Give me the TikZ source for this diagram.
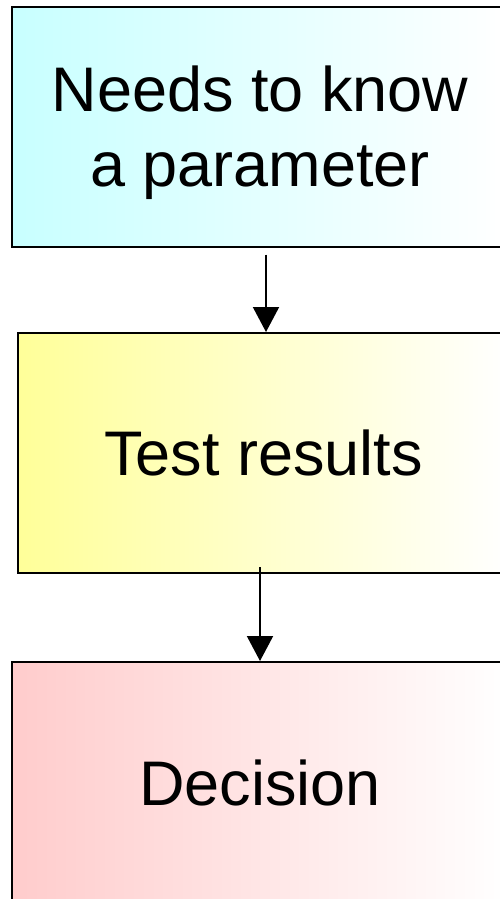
\documentclass[tikz,border=0pt]{standalone}
\usepackage{fontspec}
\setmainfont{Liberation Sans}
\usetikzlibrary{arrows.meta, positioning}
\definecolor{palecyan}{HTML}{C8FFFF}
\definecolor{paleyellow}{HTML}{FFFF99}
\definecolor{palepink}{HTML}{FFCCCC}
\tikzstyle{stage} = [rectangle, draw=black, line width=2pt, inner sep=0pt, minimum width=496pt, minimum height=239pt, align=center, font=\fontsize{63}{75}\selectfont, right color=white]
\tikzstyle{arrow} = [line width=2pt, -{Triangle[length=25pt, width=26pt]}]

\begin{document}
\begin{tikzpicture}[x=1pt, y=-1pt]
\useasboundingbox (0,0) rectangle (500,899);

\node (need) [stage, left color=palecyan, text depth=2pt] at (260,127) {Needs to know\\a parameter};

\node (test) [stage, left color=paleyellow, minimum width=491pt, minimum height=240pt] at (263.5,453) {Test results};

\node (decide) [stage, left color=palepink, minimum height=242pt] at (260,783) {Decision};

\draw [arrow, shorten <=7pt] ([xshift=6pt]need.south) -- ([xshift=6pt]need.south |- test.north);
\draw [arrow, shorten <=-7pt] ([xshift=-3.5pt]test.south) -- (decide.north);
\end{tikzpicture}
\end{document}
